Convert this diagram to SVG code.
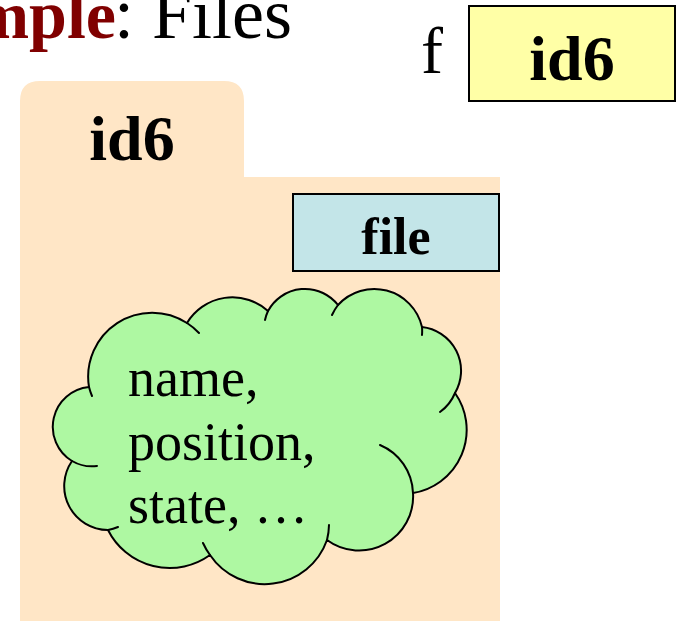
<svg xmlns="http://www.w3.org/2000/svg" width="679" height="621" viewBox="0 0 679 621">
  <style>
    .serif { font-family: "Liberation Serif", "Times New Roman", serif; }
    .bold { font-weight: bold; }
    .box { stroke: #000; stroke-width: 2; }
    .outline { fill: none; stroke: #000; stroke-width: 2; stroke-linecap: round; }
  </style>

  <!-- heading -->
  <g id="title" class="serif">
    <text x="116" y="38" font-size="68" text-anchor="end" class="bold" fill="#800000">mple</text>
    <text x="114" y="38" font-size="72" fill="#000">: Files</text>
  </g>

  <!-- variable f holding the object id -->
  <g id="var-f" class="serif">
    <text x="421" y="73" font-size="66" fill="#000">f</text>
    <rect class="box" x="469" y="6" width="206" height="95" fill="#ffffa6"/>
    <text x="572" y="80" font-size="64" text-anchor="middle" class="bold" fill="#000">id6</text>
  </g>

  <!-- object folder id6 -->
  <g id="object-id6" class="serif">
    <path d="M20,177 V101 Q20,81 40,81 H224 Q244,81 244,101 V177 H500 V621 H20 Z" fill="#ffe6c6"/>
    <text x="132" y="160" font-size="64" text-anchor="middle" class="bold" fill="#000">id6</text>
  </g>

  <!-- class name tag -->
  <g id="class-file" class="serif">
    <rect class="box" x="293" y="194" width="206" height="77" fill="#c3e5e8"/>
    <text x="396" y="254" font-size="52" text-anchor="middle" class="bold" fill="#000">file</text>
  </g>

  <!-- attribute cloud -->
  <g id="attributes" class="serif">
    <path d="M72,461 A40,40 0 0 1 89,387 A64,64 0 0 1 187,323 A53,53 0 0 1 268,311 A42,42 0 0 1 338,305 A49,49 0 0 1 422,327 A44,44 0 0 1 455,393 A64,64 0 0 1 413,493 A54,54 0 0 1 327,540 A66,66 0 0 1 210,555 A69,69 0 0 1 108,530 A44,44 0 0 1 72,461 Z" fill="#aef8a2" stroke="#000" stroke-width="2" stroke-linejoin="round"/>
    <path class="outline" d="M89,387 A64,64 0 0 0 92,396 M187,323 A64,64 0 0 1 199,333 M268,311 A42,42 0 0 0 265,320 M338,305 A49,49 0 0 0 332,315 M422,327 A49,49 0 0 1 422,335 M455,393 A44,44 0 0 1 440,412 M413,493 A54,54 0 0 0 380,445 M327,540 A66,66 0 0 0 329,525 M210,555 A66,66 0 0 1 203,543 M108,530 A44,44 0 0 0 118,527 M72,461 A40,40 0 0 0 97,466"/>
    <text font-size="54" fill="#000">
      <tspan x="128" y="396">name,</tspan>
      <tspan x="128" y="460">position,</tspan>
      <tspan x="128" y="523">state, …</tspan>
    </text>
  </g>
</svg>
